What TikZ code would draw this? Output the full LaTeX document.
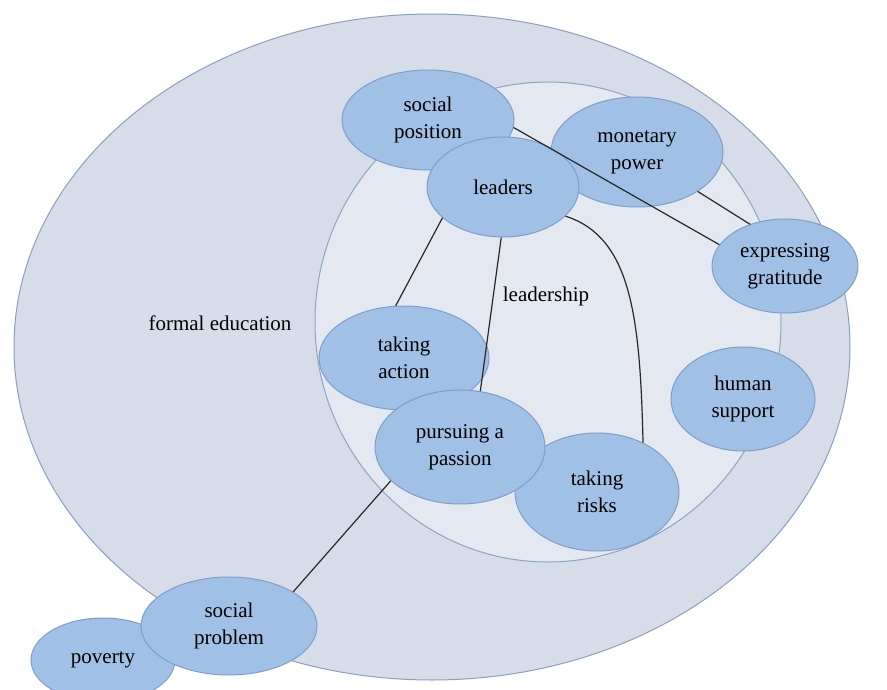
\documentclass[tikz,border=0pt]{standalone}
\usepackage{fontspec}
\setmainfont{Liberation Serif}
\usetikzlibrary{shapes.geometric}

\definecolor{outerfill}{RGB}{214,220,232}
\definecolor{outerline}{RGB}{140,160,190}
\definecolor{innerfill}{RGB}{228,232,240}
\definecolor{innerline}{RGB}{140,165,195}
\definecolor{bubblefill}{RGB}{160,192,230}
\definecolor{bubbleline}{RGB}{128,158,200}
\definecolor{linkline}{RGB}{40,40,40}

\begin{document}
\begin{tikzpicture}[x=1pt,y=-1pt,
  ring/.style={ellipse,inner sep=0pt,line width=1pt},
  bubble/.style={ellipse,draw=bubbleline,fill=bubblefill,line width=1pt,
    inner sep=0pt,align=center,font=\fontsize{21}{27}\selectfont},
  link/.style={draw=linkline,line width=1.2pt},
  plain/.style={font=\fontsize{21}{27}\selectfont}]
\useasboundingbox (0,0) rectangle (887,690);
\clip (0,0) rectangle (887,690);
\fill [white] (0,0) rectangle (887,690);
% containers
\node [ring,draw=outerline,fill=outerfill,minimum width=836pt,minimum height=666pt] (outer) at (432,347) {};
\node [ring,draw=innerline,fill=innerfill,minimum width=466pt,minimum height=480pt] (inner) at (548,322) {};
\node [plain] (formal) at (220,323) {formal education};
\node [plain] (leadership) at (546,296) {leadership};
% bubbles
\node [bubble,minimum width=172pt,minimum height=100pt] (socpos) at (428,120) {social\\position};
\node [bubble,minimum width=172pt,minimum height=110pt] (money) at (637,152) {monetary\\power};
\node [bubble,minimum width=152pt,minimum height=100pt] (leaders) at (503,187) {leaders};
\node [bubble,minimum width=146pt,minimum height=94pt] (thanks) at (785,266) {expressing\\gratitude};
\node [bubble,minimum width=170pt,minimum height=104pt] (action) at (404,358) {taking\\action};
\node [bubble,minimum width=164pt,minimum height=118pt] (risks) at (597,492) {taking\\risks};
\node [bubble,minimum width=170pt,minimum height=114pt] (passion) at (460,447) {pursuing a\\passion};
\node [bubble,minimum width=144pt,minimum height=104pt] (human) at (743,399) {human\\support};
\node [bubble,minimum width=144pt,minimum height=84pt] (poverty) at (103,660) {poverty};
\node [bubble,minimum width=176pt,minimum height=98pt] (socprob) at (229,626) {social\\problem};
% links
\draw [link] (socpos.355) -- (thanks.162);
\draw [link] (money.327) -- (thanks.130);
\draw [link] (leaders.207) -- (action.99);
\draw [link] (leaders.268) -- (passion.70);
\draw [link] (leaders.335) .. controls +(66,21) and +(-3,-125) .. (risks.47);
\draw [link] (passion.206) -- (socprob.28);
\end{tikzpicture}
\end{document}
